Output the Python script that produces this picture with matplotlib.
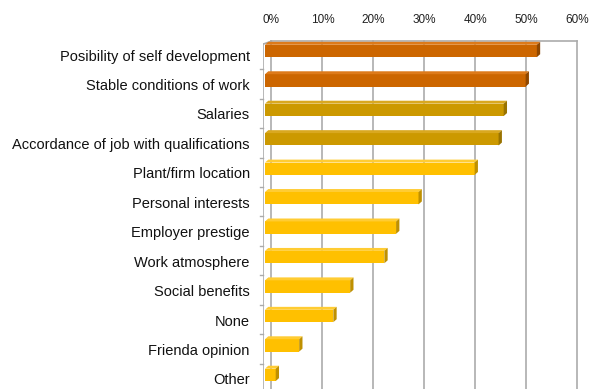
### 3D-look horizontal bar chart: reasons for choosing a job
import numpy as np
from matplotlib import pyplot as plt
from matplotlib.patches import Polygon

plt.rcParams['font.family'] = ['Liberation Sans', 'DejaVu Sans']

# data (top to bottom), % of answers
categories = ['Posibility of self development', 'Stable conditions of work',
              'Salaries', 'Accordance of job with qualifications',
              'Plant/firm location', 'Personal interests', 'Employer prestige',
              'Work atmosphere', 'Social benefits', 'None', 'Frienda opinion',
              'Other']
values = [53.3, 51.1, 46.8, 45.8, 41.1, 30.1, 25.7, 23.4, 16.7, 13.4, 6.7, 2.1]
groups = [0, 0, 1, 1, 2, 2, 2, 2, 2, 2, 2, 2]
xticks = [0, 10, 20, 30, 40, 50, 60]

# colours per group: front, top, side
front_c = ['#CC6600', '#CC9900', '#FFC000']
top_c = ['#DD7A1A', '#D9A820', '#FFCC33']
side_c = ['#8F4700', '#997300', '#BF9000']

W, H = 592, 389
fig = plt.figure(figsize=(W / 100, H / 100), dpi=100)
ax = fig.add_axes([263 / W, 0, 317 / W, 351 / H])
ax.set_xlim(-0.39, 61.76)
ax.set_ylim(11.48, -0.44)
ax.axis('off')

# back wall offset and bar depth (data units)
wdx, wdy = 1.25, -0.12
bdx, bdy = 0.65, -0.1
half = 0.21
grid_c = '#ABABAB'

# back wall grid lines + frame
for t in xticks:
    ax.plot([t + wdx, t + wdx], [-0.33, 11.48], color=grid_c, lw=1.2, zorder=1)
ax.plot([wdx, 60 + wdx], [-0.33, -0.33], color=grid_c, lw=1.2, zorder=1)
ax.plot([-0.39, -0.39], [-0.23, 11.48], color=grid_c, lw=1.2, zorder=1)
ax.plot([-0.39, wdx], [-0.23, -0.33], color=grid_c, lw=1.2, zorder=1)
for i in range(len(categories)):
    yt = i + 0.62
    ax.plot([-1.0, -0.39], [yt, yt], color=grid_c, lw=1.0, zorder=1,
            clip_on=False)

# bars
y = np.arange(len(categories))
ax.barh(y, values, height=2 * half, left=0,
        color=[front_c[g] for g in groups], edgecolor='none', zorder=3)
for i, (v, g) in enumerate(zip(values, groups)):
    yt = i - half
    yb = i + half
    top = Polygon([(0, yt), (v, yt), (v + bdx, yt + bdy), (bdx, yt + bdy)],
                  closed=True, facecolor=top_c[g], edgecolor='none', zorder=3)
    side = Polygon([(v, yt), (v + bdx, yt + bdy), (v + bdx, yb + bdy), (v, yb)],
                   closed=True, facecolor=side_c[g], edgecolor='none', zorder=3)
    ax.add_patch(top)
    ax.add_patch(side)

# category labels
for i, c in enumerate(categories):
    ax.text(-3.0, i + 0.19, c, ha='right', va='center', fontsize=10.5,
            color='#111111', clip_on=False)

# tick labels on top
for t in xticks:
    ax.text(t + wdx, -1.05, '%d%%' % t, ha='center', va='center',
            fontsize=8.5, color='#222222', clip_on=False)

plt.savefig('out.png', dpi=100)
